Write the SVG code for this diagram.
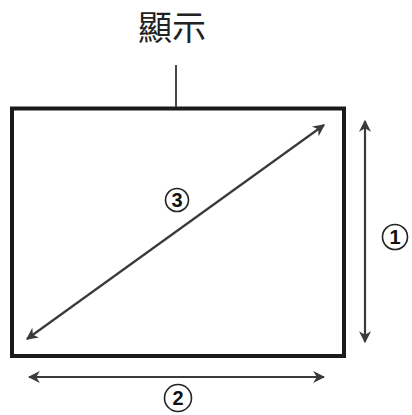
<svg xmlns="http://www.w3.org/2000/svg" width="412" height="415" viewBox="0 0 412 415">
<defs>
<style>
.arr{stroke:#3a3a3a;stroke-width:2.2;fill:none}
.circ{fill:#fff;stroke:#222;stroke-width:1.6}
.num{font-family:"Liberation Sans",Arial,sans-serif;font-weight:bold;font-size:20px;fill:#111;text-anchor:middle}
</style>
<marker id="ah" viewBox="0 0 10 10" refX="9" refY="5" markerWidth="5.5" markerHeight="5.5" orient="auto-start-reverse" markerUnits="strokeWidth">
<path d="M0,0 L10,5 L0,10 L3,5 Z" fill="#3a3a3a"/>
</marker>
</defs>
<rect width="412" height="415" fill="#fff"/>
<g id="title">
<text x="172" y="40" font-family="'Noto Sans CJK TC','Noto Sans CJK SC',sans-serif" font-size="34" fill="#222" text-anchor="middle">顯示</text>
</g>
<g id="display">
<rect x="12" y="108.5" width="332" height="247.5" fill="#fff" stroke="#1a1a1a" stroke-width="4"/>
</g>
<g id="connectors">
<line x1="176" y1="65" x2="176" y2="107" stroke="#333" stroke-width="1.8"/>
<line class="arr" x1="365" y1="121" x2="365" y2="342" marker-start="url(#ah)" marker-end="url(#ah)"/>
<line class="arr" x1="29" y1="377" x2="324" y2="377" marker-start="url(#ah)" marker-end="url(#ah)"/>
<line class="arr" x1="27" y1="339" x2="324" y2="125" marker-start="url(#ah)" marker-end="url(#ah)"/>
</g>
<g id="label1">
<circle class="circ" cx="395" cy="237" r="12.5"/>
<text class="num" x="395" y="244">1</text>
</g>
<g id="label2">
<circle class="circ" cx="178" cy="398" r="13.5"/>
<text class="num" x="178" y="405">2</text>
</g>
<g id="label3">
<circle class="circ" cx="177" cy="200" r="11.5"/>
<text class="num" x="177" y="207">3</text>
</g>
</svg>
